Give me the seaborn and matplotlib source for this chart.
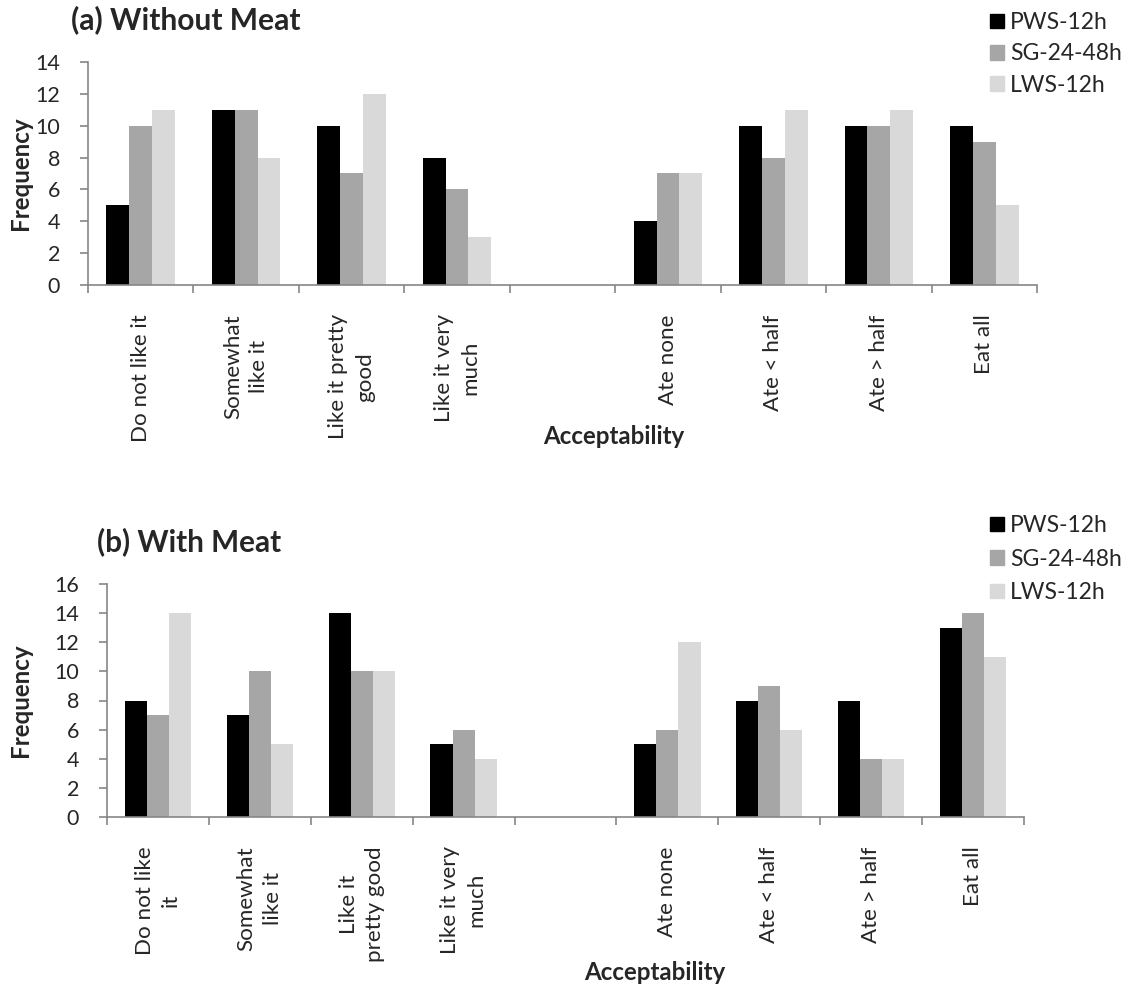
import numpy as np
import pandas as pd
import matplotlib
matplotlib.use("Agg")
import matplotlib.pyplot as plt
import seaborn as sns
from matplotlib.ticker import FixedLocator

sns.set_theme(style="white")
plt.rcParams['font.family'] = ['Lato', 'DejaVu Sans']

# ---- data ----
series = ["PWS-12h", "SG-24-48h", "LWS-12h"]
colors = ["#000000", "#a6a6a6", "#d9d9d9"]

cats_a = ["Do not like it", "Somewhat\nlike it", "Like it pretty\ngood", "Like it very\nmuch",
          "", "Ate none", "Ate < half", "Ate > half", "Eat all"]
cats_b = ["Do not like\nit", "Somewhat\nlike it", "Like it\npretty good", "Like it very\nmuch",
          "", "Ate none", "Ate < half", "Ate > half", "Eat all"]

a_pws = [5, 11, 10, 8, None, 4, 10, 10, 10]
a_sg = [10, 11, 7, 6, None, 7, 8, 10, 9]
a_lws = [11, 8, 12, 3, None, 7, 11, 11, 5]

b_pws = [8, 7, 14, 5, None, 5, 8, 8, 13]
b_sg = [7, 10, 10, 6, None, 6, 9, 4, 14]
b_lws = [14, 5, 10, 4, None, 12, 6, 4, 11]

yticks_a = [0, 2, 4, 6, 8, 10, 12, 14]
yticks_b = [0, 2, 4, 6, 8, 10, 12, 14, 16]


def long_df(cats, vals):
    rows = []
    for s, v in zip(series, vals):
        for c, x in zip(cats, v):
            if x is not None:
                rows.append({"cat": c, "series": s, "freq": x})
    return pd.DataFrame(rows)


W, H = 1131, 984
fig = plt.figure(figsize=(W / 100, H / 100), dpi=100)
renderer = fig.canvas.get_renderer()


def fit(text, target_px, weight="normal", base=20.0):
    t = fig.text(0, 0, text, fontsize=base, fontweight=weight)
    w = t.get_window_extent(renderer).width
    t.remove()
    return base * target_px / w


fs_title_a = fit("(a) Without Meat", 229, "bold")
fs_title_b = fit("(b) With Meat", 185, "bold")
fs_axtitle = fit("Acceptability", 142, "bold")
fs_cat = fit("Do not like it", 128)
fs_tick = fit("14", 25)
fs_leg = fit("SG-24-48h", 112)

spine_col = "#868686"


def make_panel(rect, cats, vals, yticks, title, title_fs, title_xy, ylab_x,
               xlab_xy, leg_top, leg_space):
    ax = fig.add_axes(rect)
    df = long_df(cats, vals)
    sns.barplot(data=df, x="cat", y="freq", hue="series", order=cats,
                hue_order=series, palette=colors, width=0.65, linewidth=0,
                saturation=1, ax=ax, legend=False)
    ax.set_xlim(-0.5, len(cats) - 0.5)
    ax.set_ylim(yticks[0], yticks[-1])
    ax.set_yticks(yticks)
    ax.set_yticklabels([str(t) for t in yticks], fontsize=fs_tick)
    ax.set_xticks(range(len(cats)))
    ax.set_xticklabels(cats, rotation=90, fontsize=fs_cat, ha="center", va="top",
                       multialignment="center", linespacing=1.4)
    ax.tick_params(axis="x", which="major", length=0, pad=21)
    ax.xaxis.set_minor_locator(FixedLocator(np.arange(-0.5, len(cats), 1.0)))
    ax.tick_params(axis="x", which="minor", length=6, width=1.2, color=spine_col,
                   direction="out", bottom=True)
    ax.tick_params(axis="y", which="major", length=6, width=1.2, color=spine_col,
                   direction="out", left=True, pad=14)
    for sp in ["top", "right"]:
        ax.spines[sp].set_visible(False)
    for sp in ["left", "bottom"]:
        ax.spines[sp].set_color(spine_col)
        ax.spines[sp].set_linewidth(1.2)
    ax.set_ylabel("")
    ax.set_xlabel("")
    pos = ax.get_position()
    fig.text(ylab_x / W, pos.y0 + pos.height / 2, "Frequency", fontsize=fs_axtitle,
             fontweight="bold", rotation=90, ha="center", va="center")
    fig.text(xlab_xy[0] / W, 1 - xlab_xy[1] / H, "Acceptability", fontsize=fs_axtitle,
             fontweight="bold", ha="center", va="center")
    fig.text(title_xy[0] / W, 1 - title_xy[1] / H, title, fontsize=title_fs,
             fontweight="bold", ha="left", va="center")
    handles = [plt.Rectangle((0, 0), 1, 1, color=c) for c in colors]
    fs_px = fs_leg * 100 / 72
    fig.legend(handles, series, loc="upper left", bbox_to_anchor=(990 / W, 1 - leg_top / H),
               frameon=False, fontsize=fs_leg, handlelength=14 / fs_px,
               handleheight=14 / fs_px, handletextpad=6 / fs_px,
               labelspacing=leg_space, borderaxespad=0, borderpad=0)
    return ax


# top panel: x 88-1037, y 62-285
make_panel([88 / W, 1 - 285 / H, (1037 - 88) / W, (285 - 62) / H], cats_a,
           [a_pws, a_sg, a_lws], yticks_a, "(a) Without Meat", fs_title_a, (71, 20),
           20, (614, 437), 12, 0.45)

# bottom panel: x 107-1024, y 584-817
make_panel([107 / W, 1 - 817 / H, (1024 - 107) / W, (817 - 584) / H], cats_b,
           [b_pws, b_sg, b_lws], yticks_b, "(b) With Meat", fs_title_b, (97, 542),
           20, (655, 972), 515, 0.55)

fig.savefig("out.png", dpi=100)
